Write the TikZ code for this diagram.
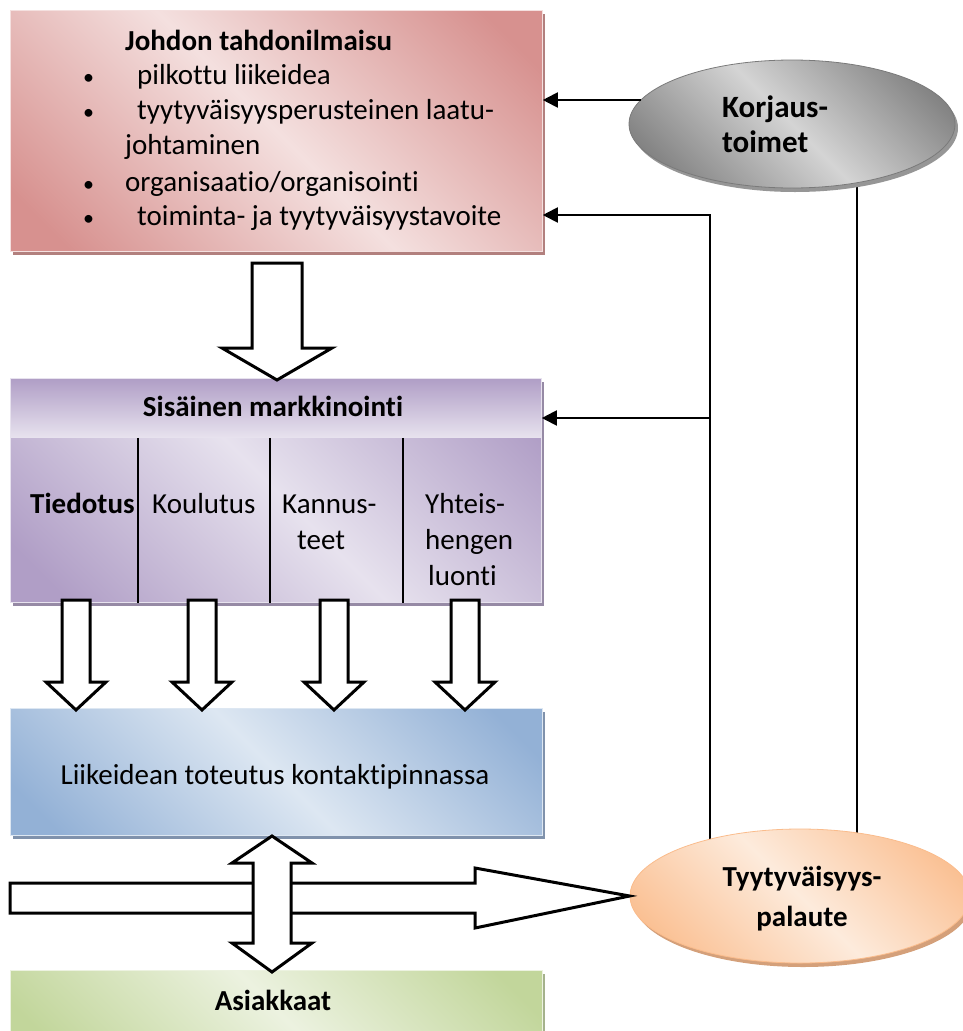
\documentclass[tikz,border=0pt]{standalone}
\usepackage{fontspec}
\setmainfont{Carlito}[Ligatures=NoCommon]
\usetikzlibrary{arrows.meta,shadows,calc,shapes.geometric}

% fill colours: dark edge tone and light centre tone of each panel
\definecolor{redDk}{RGB}{215,145,143}
\definecolor{redLt}{RGB}{244,224,223}
\definecolor{redSh}{RGB}{178,128,126}
\definecolor{purDk}{RGB}{176,158,198}
\definecolor{purLt}{RGB}{231,226,238}
\definecolor{purSh}{RGB}{150,138,165}
\definecolor{bluDk}{RGB}{147,177,214}
\definecolor{bluLt}{RGB}{221,231,242}
\definecolor{bluSh}{RGB}{128,146,172}
\definecolor{grnDk}{RGB}{194,214,155}
\definecolor{grnLt}{RGB}{236,242,224}
\definecolor{grnSh}{RGB}{165,178,140}
\definecolor{orgDk}{RGB}{250,188,140}
\definecolor{orgLt}{RGB}{253,235,220}
\definecolor{orgSh}{RGB}{212,160,122}
\definecolor{gryDk}{RGB}{122,122,122}
\definecolor{gryLt}{RGB}{212,212,212}
\definecolor{grySh}{RGB}{150,150,150}

% diagonal shading: dark at two opposite corners, light along the other diagonal
\newcommand\diagshade[3]{%
  \pgfdeclarehorizontalshading{#1}{100bp}{color(0bp)=(#2); color(20bp)=(#2);
    color(50bp)=(#3); color(80bp)=(#2); color(100bp)=(#2)}}
\diagshade{redshade}{redDk}{redLt}
\diagshade{purshade}{purDk}{purLt}
\diagshade{blushade}{bluDk}{bluLt}
\diagshade{grnshade}{grnDk}{grnLt}
\diagshade{orgshade}{orgDk}{orgLt}
\diagshade{gryshade}{gryDk}{gryLt}

% hollow block arrow pointing down: centre x, top y, tip y, half shaft, half head, head length
\newcommand\blkdown[6]{%
  \draw[blockarrow] (#1-#4,#2) -- (#1+#4,#2) -- (#1+#4,#3-#6) -- (#1+#5,#3-#6)
    -- (#1,#3) -- (#1-#5,#3-#6) -- (#1-#4,#3-#6) -- cycle;}

% list bullet followed by a fixed indent
\newcommand\itembullet[1]{\makebox[#1][l]{\hspace{1pt}\fontsize{22}{22}\selectfont•}}

\tikzset{
  panel/.style n args={3}{shade, shading=#1, shading angle=45, draw=#2,
    line width=0.8pt, inner sep=0pt,
    drop shadow={shadow xshift=3pt, shadow yshift=-4pt, fill=#3, opacity=1}},
  lbl/.style={inner sep=0pt, anchor=base west},
  lblc/.style={inner sep=0pt, anchor=base},
  bf/.style={font=\fontsize{29}{34}\selectfont\bfseries},
  blockarrow/.style={draw=black, fill=white, line width=3pt, line join=miter},
  feedback/.style={draw=black, line width=2pt, -{Triangle[length=15pt,width=15pt]}},
  plainline/.style={draw=black, line width=1.5pt},
  divider/.style={draw=black, line width=1.5pt}
}

\begin{document}
\begin{tikzpicture}[x=1pt, y=-1pt, font=\fontsize{29}{34}\selectfont]
\useasboundingbox (0,0) rectangle (962,1031);

% ---- panels ----
\node[panel={redshade}{redLt}{redSh}, anchor=north west,
      minimum width=532pt, minimum height=241pt] (mgmt) at (10,10) {};
\node[panel={purshade}{purLt}{purSh}, anchor=north west,
      minimum width=531pt, minimum height=224pt] (sis) at (10,378) {};
\node[shade, top color=purDk, bottom color=purLt, draw=purLt, line width=0.8pt,
      inner sep=0pt, anchor=north west, minimum width=531pt, minimum height=59pt]
      (sisHead) at (10,378) {};
\node[panel={blushade}{bluLt}{bluSh}, anchor=north west,
      minimum width=532pt, minimum height=127pt] (real) at (10,708) {};
\node[panel={grnshade}{grnLt}{grnSh}, anchor=north west,
      minimum width=532pt, minimum height=80pt] (cust) at (10,970) {};

% column dividers of the internal marketing panel
\foreach \dx/\nm in {128/dA, 260/dB, 393/dC}{
  \coordinate (\nm) at ($(sisHead.south west)+(\dx,0)$);
  \draw[divider] (\nm) -- (\nm |- sis.south);
}

% ---- feedback connectors (drawn before the ellipses) ----
\coordinate (korjC) at (792,124);
\coordinate (tyytC) at (800,896);
\coordinate (kOut) at ($(korjC)+(-151,-24)$);
\coordinate (kDown) at ($(korjC)+(65,59)$);
\coordinate (tA) at ($(tyytC)+(-90,-57)$);
\coordinate (tB) at ($(tyytC)+(57,-63)$);
\coordinate (fbTop) at (0,215);
\coordinate (fbMid) at (0,418);

\draw[feedback] (tA) -- (tA |- fbTop) -- (mgmt.east |- fbTop);
\draw[feedback] (tA |- fbMid) -- (sis.east |- fbMid);
\draw[plainline] (kDown) -- (kDown |- tB);

% ---- ellipses ----
\node[ellipse, panel={gryshade}{gryDk}{grySh}, minimum width=326pt,
      minimum height=128pt] (korj) at (korjC) {};
\node[ellipse, panel={orgshade}{orgDk}{orgSh}, minimum width=340pt,
      minimum height=134pt] (tyyt) at (tyytC) {};
\draw[feedback] (kOut) -- (kOut -| mgmt.east);

% ---- block arrows ----
\blkdown{277}{263}{380}{25}{55}{32}
\blkdown{76}{600}{710}{14}{30}{28}
\blkdown{202}{600}{710}{14}{30}{28}
\blkdown{334}{600}{710}{14}{30}{28}
\blkdown{465}{600}{710}{14}{30}{28}
% flow from the contact surface to the feedback
\draw[blockarrow] (10,883) -- (475,883) -- (475,868) -- (tyyt.west) -- (475,928)
  -- (475,913) -- (10,913) -- cycle;
% two-way exchange between the contact surface and the customers
\draw[blockarrow] (272,836) -- (312,863) -- (291,863) -- (291,943) -- (312,943)
  -- (272,972) -- (232,943) -- (253,943) -- (253,863) -- (232,863) -- cycle;

% ---- texts ----
\node[lbl, bf] (t1) at (125,50) {Johdon tahdonilmaisu};
\node[lbl] (t2) at (82,84) {\itembullet{55pt}pilkottu liikeidea};
\node[lbl] (t3) at (82,119) {\itembullet{55pt}tyytyväisyysperusteinen laatu-};
\node[lbl] (t4) at (125,154) {johtaminen};
\node[lbl] (t5) at (82,191) {\itembullet{43pt}organisaatio/organisointi};
\node[lbl] (t6) at (82,225) {\itembullet{55pt}toiminta- ja tyytyväisyystavoite};

\node[lblc, bf] (sisTxt) at (273,416) {Sisäinen markkinointi};
\node[lbl, bf] (c1) at (30,513) {Tiedotus};
\node[lbl] (c2) at (152,513) {Koulutus};
\node[lbl] (c3a) at (282,513) {Kannus-};
\node[lbl] (c3b) at (297,549) {teet};
\node[lbl] (c4a) at (425,513) {Yhteis-};
\node[lbl] (c4b) at (425,549) {hengen};
\node[lbl] (c4c) at (428,585) {luonti};

\node[lblc] (realTxt) at (275,784) {Liikeidean toteutus kontaktipinnassa};
\node[lblc, bf] (custTxt) at (273,1010) {Asiakkaat};

\node[lbl, bf, font=\fontsize{31}{34}\selectfont\bfseries] (k1) at (722,117) {Korjaus-};
\node[lbl, bf, font=\fontsize{31}{34}\selectfont\bfseries] (k2) at (722,152) {toimet};
\node[lblc, bf] (p1) at (802,886) {Tyytyväisyys-};
\node[lblc, bf] (p2) at (802,926) {palaute};
\end{tikzpicture}
\end{document}
